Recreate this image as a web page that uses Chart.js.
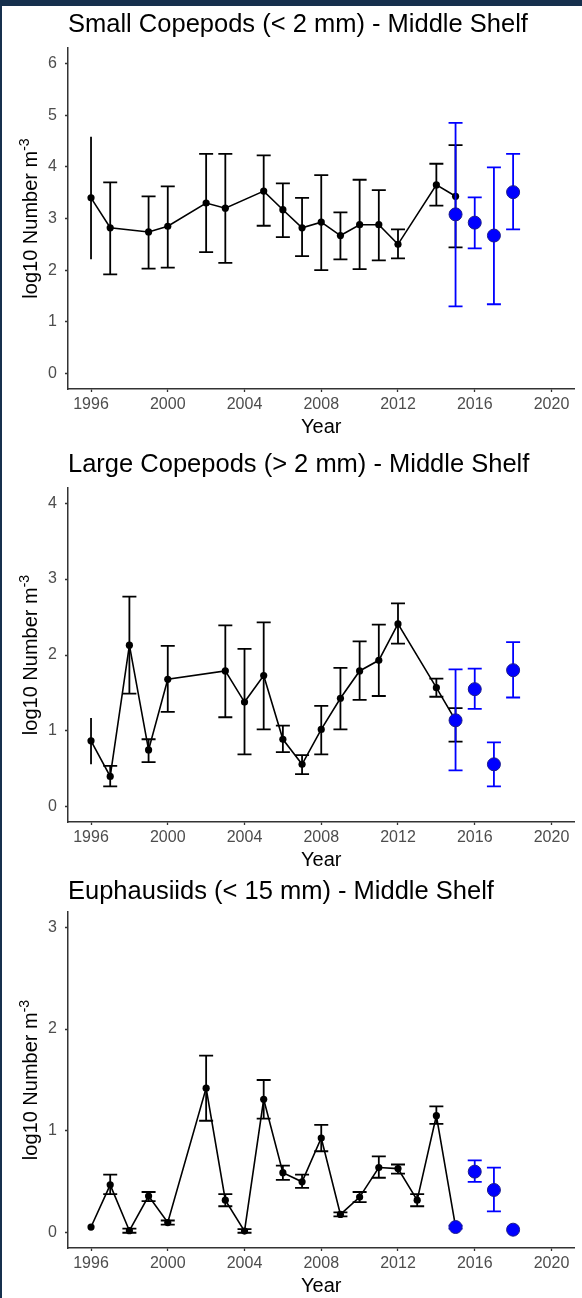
<!DOCTYPE html>
<html>
<head>
<meta charset="utf-8">
<script src="https://cdn.jsdelivr.net/npm/chart.js@4.4.1/dist/chart.umd.min.js"></script>
<style>
  html, body { margin: 0; padding: 0; background: #fff; }
  body { width: 582px; height: 1298px; position: relative; overflow: hidden; }
  canvas.panel { position: absolute; left: 0; }
  #frame {
    position: absolute; left: 0; top: 0; width: 582px; height: 1298px;
    border-top: 6px solid #16304d; border-left: 2px solid #16304d;
    box-sizing: border-box; pointer-events: none;
  }
</style>
</head>
<body>
<canvas class="panel" id="small"></canvas>
<canvas class="panel" id="large"></canvas>
<canvas class="panel" id="euph"></canvas>
<div id="frame"></div>

<script>
// Small copepods (< 2 mm), survey series (black) and later estimates (blue)
const smallYears = [1996, 1997, 1999, 2000, 2002, 2003, 2005, 2006, 2007, 2008, 2009, 2010, 2011, 2012, 2014, 2015];
const smallMean  = [3.40, 2.82, 2.74, 2.85, 3.30, 3.20, 3.53, 3.17, 2.82, 2.93, 2.67, 2.88, 2.88, 2.50, 3.65, 3.43];
const smallLow   = [2.21, 1.92, 2.03, 2.05, 2.35, 2.14, 2.86, 2.64, 2.27, 2.00, 2.21, 2.02, 2.19, 2.23, 3.25, 2.44];
const smallHigh  = [4.58, 3.70, 3.43, 3.62, 4.25, 4.25, 4.22, 3.68, 3.40, 3.84, 3.12, 3.75, 3.55, 2.79, 4.06, 4.42];
const smallNewYears = [2015, 2016, 2017, 2018];
const smallNewMean  = [3.08, 2.92, 2.67, 3.51];
const smallNewLow   = [1.30, 2.42, 1.34, 2.79];
const smallNewHigh  = [4.85, 3.41, 3.99, 4.25];

// Large copepods (> 2 mm)
const largeYears = [1996, 1997, 1998, 1999, 2000, 2003, 2004, 2005, 2006, 2007, 2008, 2009, 2010, 2011, 2012, 2014, 2015];
const largeMean  = [0.87, 0.40, 2.13, 0.75, 1.68, 1.79, 1.38, 1.73, 0.89, 0.56, 1.02, 1.43, 1.79, 1.93, 2.41, 1.57, 1.14];
const largeLow   = [0.56, 0.27, 1.49, 0.59, 1.25, 1.18, 0.69, 1.02, 0.72, 0.43, 0.69, 1.02, 1.41, 1.46, 2.15, 1.45, 0.86];
const largeHigh  = [1.17, 0.54, 2.77, 0.89, 2.12, 2.39, 2.08, 2.43, 1.07, 0.68, 1.33, 1.83, 2.18, 2.40, 2.68, 1.69, 1.30];
const largeNewYears = [2015, 2016, 2017, 2018];
const largeNewMean  = [1.14, 1.55, 0.56, 1.80];
const largeNewLow   = [0.48, 1.29, 0.27, 1.44];
const largeNewHigh  = [1.81, 1.82, 0.85, 2.17];

// Euphausiids (< 15 mm)
const euphYears = [1996, 1997, 1998, 1999, 2000, 2002, 2003, 2004, 2005, 2006, 2007, 2008, 2009, 2010, 2011, 2012, 2013, 2014, 2015];
const euphMean  = [0.056, 0.47, 0.02, 0.36, 0.10, 1.42, 0.32, 0.016, 1.31, 0.59, 0.50, 0.93, 0.18, 0.35, 0.64, 0.63, 0.32, 1.15, 0.06];
const euphLow   = [null, 0.38, 0.00, 0.31, 0.08, 1.10, 0.26, 0.00, 1.12, 0.52, 0.44, 0.80, 0.16, 0.30, 0.54, 0.58, 0.26, 1.07, null];
const euphHigh  = [null, 0.57, 0.04, 0.40, 0.12, 1.74, 0.38, 0.035, 1.50, 0.66, 0.57, 1.06, 0.20, 0.40, 0.75, 0.67, 0.38, 1.24, null];
const euphNewYears = [2015, 2016, 2017, 2018];
const euphNewMean  = [0.056, 0.60, 0.42, 0.03];
const euphNewLow   = [0.04, 0.50, 0.21, null];
const euphNewHigh  = [0.07, 0.71, 0.64, null];

// axis limits before the 5% padding
const yearRange  = [1996, 2020];
const yearTicks  = 4;
const smallRange = [0, 6];
const largeRange = [0, 4];
const euphRange  = [0, 3];

const FONT = '"Liberation Sans", Arial, sans-serif';
Chart.defaults.font.family = FONT;

function toPoints(xs, ys) {
  return xs.map((x, i) => ({ x: x, y: ys[i] }));
}

function expand(r) {
  const pad = (r[1] - r[0]) * 0.05;
  return [r[0] - pad, r[1] + pad];
}

// vertical error bars, drawn just before the dataset they belong to
const errorBars = {
  id: 'errorBars',
  beforeDatasetDraw(chart, args) {
    const ds = chart.data.datasets[args.index];
    if (!ds.low) return;
    const ctx = chart.ctx;
    const xs = chart.scales.x, ys = chart.scales.y;
    ctx.save();
    ctx.strokeStyle = ds.barColor;
    ctx.lineWidth = 1.8;
    ds.data.forEach((p, i) => {
      const lo = ds.low[i], hi = ds.high[i];
      if (lo == null || hi == null) return;
      const px = xs.getPixelForValue(p.x);
      const yl = ys.getPixelForValue(lo);
      const yh = ys.getPixelForValue(hi);
      ctx.beginPath();
      ctx.moveTo(px, yl);
      ctx.lineTo(px, yh);
      // the first survey year has no caps
      if (!(ds.bareFirst && i === 0)) {
        ctx.moveTo(px - 7, yl); ctx.lineTo(px + 7, yl);
        ctx.moveTo(px - 7, yh); ctx.lineTo(px + 7, yh);
      }
      ctx.stroke();
    });
    ctx.restore();
  }
};

// panel title and the y axis label with its superscript
const panelText = {
  id: 'panelText',
  afterDraw(chart, args, opts) {
    const ctx = chart.ctx;
    const area = chart.chartArea;
    ctx.save();
    ctx.fillStyle = '#000';
    ctx.textAlign = 'left';
    ctx.textBaseline = 'middle';
    ctx.font = '25.5px ' + FONT;
    ctx.fillText(opts.title, area.left, opts.titleY);

    const main = 'log10 Number m';
    const sup = '-3';
    ctx.font = '20px ' + FONT;
    const wMain = ctx.measureText(main).width;
    ctx.font = '14px ' + FONT;
    const wSup = ctx.measureText(sup).width;
    const total = wMain + wSup;
    ctx.translate(37, (area.top + area.bottom) / 2);
    ctx.rotate(-Math.PI / 2);
    ctx.textBaseline = 'alphabetic';
    ctx.font = '20px ' + FONT;
    ctx.fillText(main, -total / 2, 0);
    ctx.font = '14px ' + FONT;
    ctx.fillText(sup, -total / 2 + wMain, -8);
    ctx.restore();
  }
};

function makePanel(id, top, plotHeight, titleY, title, yRange, series) {
  const canvas = document.getElementById(id);
  canvas.width = 582;
  canvas.height = 48 + plotHeight + 50;
  canvas.style.top = top + 'px';
  const xLim = expand(yearRange);
  const yLim = expand(yRange);

  new Chart(canvas, {
    type: 'line',
    data: {
      datasets: [
        {
          data: toPoints(series.newYears, series.newMean),
          low: series.newLow, high: series.newHigh,
          barColor: '#0000ff',
          showLine: false,
          pointRadius: 6.5,
          pointBackgroundColor: '#0000ff',
          pointBorderColor: '#1c1c8a',
          pointBorderWidth: 1,
          order: 0
        },
        {
          data: toPoints(series.years, series.mean),
          low: series.low, high: series.high,
          barColor: '#000',
          bareFirst: true,
          borderColor: '#000',
          borderWidth: 1.6,
          pointRadius: 3.6,
          pointBackgroundColor: '#000',
          pointBorderWidth: 0,
          order: 1
        }
      ]
    },
    options: {
      responsive: false,
      animation: false,
      layout: { padding: { top: 48, right: 7, left: 0, bottom: 0 } },
      plugins: {
        legend: { display: false },
        tooltip: { enabled: false },
        panelText: { title: title, titleY: titleY }
      },
      scales: {
        x: {
          type: 'linear',
          min: xLim[0], max: xLim[1],
          afterFit: s => { s.height = 50; },
          border: { color: '#333', width: 1.5 },
          grid: { drawOnChartArea: false, tickLength: 3, tickColor: '#333', tickWidth: 1.3 },
          ticks: {
            stepSize: yearTicks, includeBounds: false, autoSkip: false, maxRotation: 0,
            padding: 3, color: '#4d4d4d', font: { size: 16 },
            callback: v => String(v)
          },
          title: { display: true, text: 'Year', color: '#000', font: { size: 20 }, padding: { top: 0, bottom: 0 } }
        },
        y: {
          type: 'linear',
          min: yLim[0], max: yLim[1],
          afterFit: s => { s.width = 68; },
          border: { color: '#333', width: 1.5 },
          grid: { drawOnChartArea: false, tickLength: 3, tickColor: '#333', tickWidth: 1.3 },
          ticks: {
            stepSize: 1, includeBounds: false,
            padding: 8, color: '#4d4d4d', font: { size: 16 },
            callback: v => String(v)
          }
        }
      }
    },
    plugins: [errorBars, panelText]
  });
}

makePanel('small', 0, 341, 25, 'Small Copepods (< 2 mm) - Middle Shelf', smallRange, {
  years: smallYears, mean: smallMean, low: smallLow, high: smallHigh,
  newYears: smallNewYears, newMean: smallNewMean, newLow: smallNewLow, newHigh: smallNewHigh
});
makePanel('large', 440, 334, 25, 'Large Copepods (> 2 mm) - Middle Shelf', largeRange, {
  years: largeYears, mean: largeMean, low: largeLow, high: largeHigh,
  newYears: largeNewYears, newMean: largeNewMean, newLow: largeNewLow, newHigh: largeNewHigh
});
makePanel('euph', 864, 336, 28, 'Euphausiids (< 15 mm) - Middle Shelf', euphRange, {
  years: euphYears, mean: euphMean, low: euphLow, high: euphHigh,
  newYears: euphNewYears, newMean: euphNewMean, newLow: euphNewLow, newHigh: euphNewHigh
});
</script>
</body>
</html>
